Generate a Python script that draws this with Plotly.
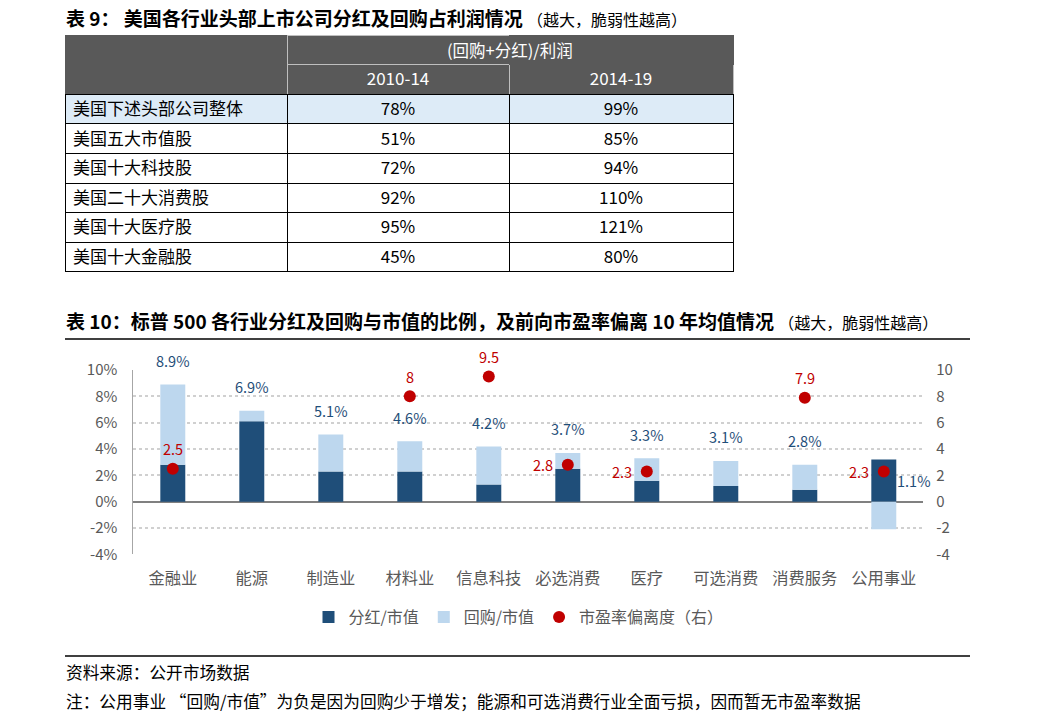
import plotly.graph_objects as go

# ---------------- data ----------------
# Table 9
table_rows = ["美国下述头部公司整体", "美国五大市值股", "美国十大科技股",
              "美国二十大消费股", "美国十大医疗股", "美国十大金融股"]
col_2010_14 = ["78%", "51%", "72%", "92%", "95%", "45%"]
col_2014_19 = ["99%", "85%", "94%", "110%", "121%", "80%"]
period_labels = ["2010-14", "2014-19"]
header_label = "(回购+分红)/利润"

# Table 10 chart
categories = ["金融业", "能源", "制造业", "材料业", "信息科技",
              "必选消费", "医疗", "可选消费", "消费服务", "公用事业"]
dividend_yield = [2.8, 6.1, 2.3, 2.3, 1.3, 2.5, 1.6, 1.2, 0.9, 3.2]
buyback_yield = [6.1, 0.8, 2.8, 2.3, 2.9, 1.2, 1.7, 1.9, 1.9, -2.1]
total_yield = [8.9, 6.9, 5.1, 4.6, 4.2, 3.7, 3.3, 3.1, 2.8, 1.1]
total_labels = ["8.9%", "6.9%", "5.1%", "4.6%", "4.2%", "3.7%", "3.3%", "3.1%", "2.8%", "1.1%"]
pe_deviation = [2.5, None, None, 8, 9.5, 2.8, 2.3, None, 7.9, 2.3]
pe_labels = ["2.5", "", "", "8", "9.5", "2.8", "2.3", "", "7.9", "2.3"]
left_tick_vals = [-4, -2, 0, 2, 4, 6, 8, 10]
left_tick_labels = ["-4%", "-2%", "0%", "2%", "4%", "6%", "8%", "10%"]
right_tick_labels = ["-4", "-2", "0", "2", "4", "6", "8", "10"]

title9 = "表 9： 美国各行业头部上市公司分红及回购占利润情况"
title10 = "表 10：标普 500 各行业分红及回购与市值的比例，及前向市盈率偏离 10 年均值情况"
subtitle = "（越大，脆弱性越高）"
source_text = "资料来源：公开市场数据"
note_text = "注：公用事业 “回购/市值”为负是因为回购少于增发；能源和可选消费行业全面亏损，因而暂无市盈率数据"

# ---------------- styling ----------------
W, H = 1037, 725
FONT = "Noto Sans CJK SC, Microsoft YaHei, sans-serif"
DARK = "#1F4E79"
LIGHT = "#BDD7EE"
RED = "#C00000"
GRAY = "#595959"
HDR = "#595959"


def px(x):
    return x / W


def py(y):
    return 1 - y / H


fig = go.Figure()

# ---------------- table 9 ----------------
n = len(table_rows)
fill_cells = [HDR] + ["#DDEBF7"] + ["white"] * (n - 1)
font_col = [["white"] + ["black"] * n] * 3
line_cols = [["#595959"] + ["#000000"] * n,
             ["#BFBFBF"] + ["#000000"] * n,
             ["#BFBFBF"] + ["#000000"] * n]

fig.add_trace(go.Table(
    domain=dict(x=[px(65), px(733)], y=[py(290), py(35)]),
    columnwidth=[222, 222, 224],
    header=dict(values=["", "", ""], fill_color=HDR, height=29.6,
                line=dict(color=[HDR, "#BFBFBF", HDR], width=1),
                font=dict(family=FONT, size=17, color="white")),
    cells=dict(values=[[""] + table_rows,
                       [period_labels[0]] + col_2010_14,
                       [period_labels[1]] + col_2014_19],
               fill_color=[fill_cells, fill_cells, fill_cells],
               line=dict(color=line_cols, width=1),
               align=["left", "center", "center"],
               height=29.6,
               font=dict(family=FONT, size=17, color=font_col)),
))

# ---------------- chart ----------------
fig.add_trace(go.Bar(x=categories, y=dividend_yield, name="分红/市值",
                     marker=dict(color=DARK, line_width=0)))
fig.add_trace(go.Bar(x=categories, y=buyback_yield, name="回购/市值",
                     marker=dict(color=LIGHT, line_width=0)))
fig.add_trace(go.Scatter(x=categories, y=pe_deviation, name="市盈率偏离度（右）",
                         mode="markers", yaxis="y2",
                         marker=dict(color=RED, size=12)))

annotations = []
for i, (c, v, t) in enumerate(zip(categories, total_yield, total_labels)):
    if i == len(categories) - 1:
        annotations.append(dict(x=c, y=v, xref="x", yref="y", text=t, showarrow=False,
                                xshift=30, yshift=7,
                                font=dict(family=FONT, size=14.5, color=DARK)))
    else:
        annotations.append(dict(x=c, y=v, xref="x", yref="y", text=t, showarrow=False,
                                yshift=24, font=dict(family=FONT, size=14.5, color=DARK)))

left_label_idx = {5, 6, 9}
for i, (c, v, t) in enumerate(zip(categories, pe_deviation, pe_labels)):
    if v is None:
        continue
    if i in left_label_idx:
        annotations.append(dict(x=c, y=v, xref="x", yref="y2", text=t, showarrow=False,
                                xshift=-25, font=dict(family=FONT, size=14.5, color=RED)))
    else:
        annotations.append(dict(x=c, y=v, xref="x", yref="y2", text=t, showarrow=False,
                                yshift=20, font=dict(family=FONT, size=14.5, color=RED)))

# merged header text
annotations.append(dict(x=px(510), y=py(49.5), xref="paper", yref="paper",
                        xanchor="center", yanchor="middle",
                        text=header_label, showarrow=False,
                        font=dict(family=FONT, size=16.5, color="white")))
# titles and footers
for text_y, txt in [(18, "<b>" + title9 + "</b> <span style='font-size:16px'>" + subtitle + "</span>"),
                    (320, "<b>" + title10 + "</b> <span style='font-size:16px'>" + subtitle + "</span>")]:
    annotations.append(dict(x=px(64), y=py(text_y), xref="paper", yref="paper",
                            xanchor="left", yanchor="middle", text=txt, showarrow=False,
                            font=dict(family=FONT, size=19, color="black")))
for text_y, txt in [(672, source_text), (701, note_text)]:
    annotations.append(dict(x=px(64), y=py(text_y), xref="paper", yref="paper",
                            xanchor="left", yanchor="middle", text=txt, showarrow=False,
                            font=dict(family=FONT, size=16.7, color="black")))

shapes = [
    dict(type="line", xref="paper", yref="paper", x0=px(65), x1=px(970), y0=py(339), y1=py(339),
         line=dict(color="black", width=1.5)),
    dict(type="line", xref="paper", yref="paper", x0=px(65), x1=px(970), y0=py(656), y1=py(656),
         line=dict(color="black", width=1.5)),
]

fig.update_layout(
    width=W, height=H,
    margin=dict(l=0, r=0, t=0, b=0, pad=0, autoexpand=False),
    paper_bgcolor="white", plot_bgcolor="white",
    barmode="relative", bargap=0.684,
    font=dict(family=FONT, size=14, color=GRAY),
    showlegend=True,
    legend=dict(orientation="h", x=0.5, xanchor="center", y=py(617), yanchor="middle",
                font=dict(family=FONT, size=16, color=GRAY), itemsizing="constant",
                bgcolor="rgba(0,0,0,0)"),
    xaxis=dict(domain=[px(133.3), px(923.3)], anchor="y", type="category",
               range=[-0.5, len(categories) - 0.5],
               showline=False, ticks="", showgrid=False, automargin=False,
               tickfont=dict(family=FONT, size=16.3, color=GRAY), ticklabelstandoff=12),
    yaxis=dict(domain=[py(554.4), py(370)], range=[-4, 10], automargin=False,
               tickvals=left_tick_vals, ticktext=left_tick_labels,
               showgrid=True, gridcolor="#D0D0D0", griddash="dot", gridwidth=1.5,
               zeroline=True, zerolinecolor="#808080", zerolinewidth=2,
               showline=True, linecolor="#A6A6A6", linewidth=1,
               ticks="", tickfont=dict(family=FONT, size=15, color=GRAY),
               ticklabelstandoff=12),
    yaxis2=dict(overlaying="y", side="right", range=[-4, 10], automargin=False,
                tickvals=left_tick_vals, ticktext=right_tick_labels,
                showgrid=False, zeroline=False, showline=False, ticks="",
                tickfont=dict(family=FONT, size=15, color=GRAY), ticklabelstandoff=12),
    annotations=annotations,
    shapes=shapes,
)

fig.write_html("out.html", config={"displayModeBar": False},
               post_script="document.body.style.margin='0px';")
